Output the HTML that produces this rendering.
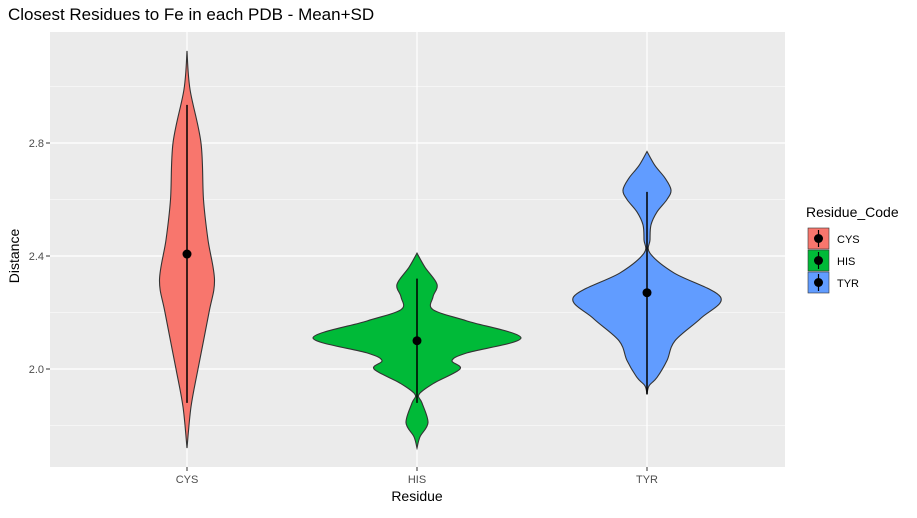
<!DOCTYPE html>
<html><head><meta charset="utf-8"><style>
body{margin:0;background:#fff;font-family:"Liberation Sans",Arial,sans-serif;}
svg text{font-family:"Liberation Sans",Arial,sans-serif;}
</style></head><body>
<svg id="c" width="917" height="513">
<text x="8" y="20" font-size="17" fill="#000">Closest Residues to Fe in each PDB - Mean+SD</text>
<rect x="50" y="32" width="735" height="435" fill="#ebebeb"/>
<g id="grid"></g><g id="marks"></g><g id="axes"></g>
<text x="417" y="501" font-size="14" text-anchor="middle">Residue</text>
<text transform="translate(19,256) rotate(-90)" font-size="14" text-anchor="middle">Distance</text>
<g id="legend">
<text x="806" y="217" font-size="14">Residue_Code</text>
</g>
</svg>
<script>
const categories=["CYS","HIS","TYR"];
const colors=["#F8766D","#00BA38","#619CFF"];
const yTicks=[2.0,2.4,2.8];
const yMinor=[1.8,2.2,2.6,3.0];
const means=[2.407,2.10,2.27];
const lowers=[1.88,1.88,1.91];
const uppers=[2.935,2.32,2.627];
const cysVals=[1.72,1.866,2.0,2.2,2.315,2.457,2.6,2.8,2.99,3.126];
const cysDens=[0,4,11,22,27.5,21,16.5,14,3,0];
const hisVals=[1.72,1.76,1.81,1.88,1.91,1.95,2.0,2.03,2.057,2.11,2.17,2.21,2.255,2.30,2.36,2.41];
const hisDens=[0,3,11,5,2,17,43,35,50,104,50,16,16,20,8,0];
const tyrVals=[1.91,1.94,1.97,2.03,2.1,2.18,2.255,2.34,2.41,2.457,2.51,2.556,2.6,2.634,2.676,2.72,2.77];
const tyrDens=[0,2,10,20,28,54,73.5,27,3,3,4,10,20,24,18,8,0];
const violins=[[cysVals,cysDens],[hisVals,hisDens],[tyrVals,tyrDens]];
const NS="http://www.w3.org/2000/svg";
const y=v=>369-(v-2)*282.5;
const x=i=>187+i*230;
function mk(t,a,p){const e=document.createElementNS(NS,t);for(const k in a)e.setAttribute(k,a[k]);document.getElementById(p).appendChild(e);return e;}
yMinor.forEach(v=>{const l=mk('line',{x1:50,x2:785,y1:y(v),y2:y(v),stroke:'#fff','stroke-width':0.6},'grid');

});
yTicks.forEach(v=>{const l=mk('line',{x1:50,x2:785,y1:y(v),y2:y(v),stroke:'#fff','stroke-width':1.2},'grid');


const t=mk('text',{x:44,y:y(v)+4,'font-size':11,fill:'#4d4d4d','text-anchor':'end'},'axes');t.textContent=v.toFixed(1);


mk('line',{x1:46,x2:50,y1:y(v),y2:y(v),stroke:'#333'},'axes');});
categories.forEach((c,i)=>{const l=mk('line',{x1:x(i),x2:x(i),y1:32,y2:467,stroke:'#fff','stroke-width':1.2},'grid');


mk('line',{x1:x(i),x2:x(i),y1:467,y2:471,stroke:'#333'},'axes');
const t=mk('text',{x:x(i),y:483,'font-size':11,fill:'#4d4d4d','text-anchor':'middle'},'axes');t.textContent=c;

});
function smooth(pts){let d='M'+pts[0][0]+','+pts[0][1];for(let i=0;i<pts.length-1;i++){const p0=pts[Math.max(i-1,0)],p1=pts[i],p2=pts[i+1],p3=pts[Math.min(i+2,pts.length-1)];
d+=' C'+(p1[0]+(p2[0]-p0[0])/6)+','+(p1[1]+(p2[1]-p0[1])/6)+' '+(p2[0]-(p3[0]-p1[0])/6)+','+(p2[1]-(p3[1]-p1[1])/6)+' '+p2[0]+','+p2[1];}return d;}
violins.forEach(([vals,dens],i)=>{const cx=x(i);
const right=vals.map((v,k)=>[cx+dens[k],y(v)]);
const left=vals.map((v,k)=>[cx-dens[k],y(v)]).reverse();
const d=smooth(right)+' '+smooth(left).replace('M','L')+'Z';
const p=mk('path',{d:d,fill:colors[i],stroke:'#333','stroke-width':1.1},'marks');


const l=mk('line',{x1:cx,x2:cx,y1:y(uppers[i]),y2:y(lowers[i]),stroke:'#000','stroke-width':1.5},'marks');


const c=mk('circle',{cx:cx,cy:y(means[i]),r:4.5,fill:'#000'},'marks');


const ky=228+i*22;
const r=mk('rect',{x:808,y:ky,width:21,height:21,fill:colors[i],stroke:'#333','stroke-width':0.6},'legend');


mk('line',{x1:818.5,x2:818.5,y1:ky+2,y2:ky+19,stroke:'#000','stroke-width':1.2},'legend');
mk('circle',{cx:818.5,cy:ky+10.5,r:4.5,fill:'#000'},'legend');
const t=mk('text',{x:837,y:ky+15,'font-size':11,fill:'#000'},'legend');t.textContent=categories[i];

});
</script>
</body></html>
